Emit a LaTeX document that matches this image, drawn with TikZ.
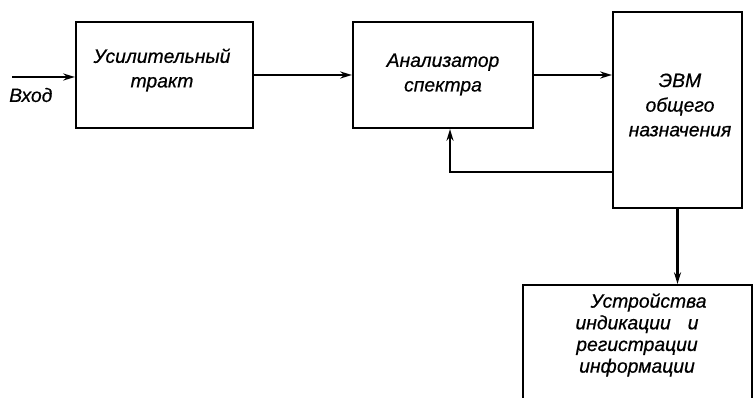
\documentclass[tikz,border=0pt]{standalone}
\usepackage{fontspec}
\newfontfamily\blockfont[FakeBold=0.6]{Liberation Sans}
\usetikzlibrary{arrows.meta}

\tikzset{
  block/.style={draw, line width=1.8pt, inner sep=0pt},
  caption/.style={align=center, inner sep=0pt,
    font=\blockfont\itshape\fontsize{16.5}{21}\selectfont},
  link/.style={line width=1.8pt, -{Stealth[length=10pt,width=6pt]}},
}

\begin{document}
\begin{tikzpicture}[x=0.03cm, y=-0.03cm]
  \clip (0,0) rectangle (753,398);

  % blocks
	\node[block, minimum width=5.31cm, minimum height=3.18cm] (amp) at (164.5,75) {};
	\node[block, minimum width=5.4cm, minimum height=3.18cm] (spec) at (443,75) {};
	\node[block, minimum width=3.87cm, minimum height=5.88cm] (evm) at (677.5,110) {};
	\node[block, minimum width=6.87cm, minimum height=4.2cm, anchor=north] (ind) at (637.5,284) {};

  % texts
	\node[caption] (amptext) at (162,70) {Усилительный\\тракт};
	\node[caption] (spectext) at (443,74.5) {Анализатор\\спектра};
	\node[caption] (evmtext) at (680,105) {ЭВМ\\общего\\назначения};
	\node[caption, font=\blockfont\itshape\fontsize{16.5}{18.5}\selectfont] (indtext) at (637,335) {\hspace{1.2em}Устройства\\индикации\hspace{0.6em} и\\регистрации\\информации};
	\node[caption, anchor=west] (inlbl) at (9,95) {Вход};

	\coordinate (in) at (12,77);
	\coordinate (fb) at (450,172);

	\draw[link] (in) -- (in -| amp.west);
	\draw[link] (amp.east) -- (spec.west);
	\draw[link] (spec.east) -- (spec.east -| evm.west);
	\draw[link] (fb -| evm.west) -- (fb) -- (fb |- spec.south);
	\draw[link] (evm.south) -- (evm.south |- ind.north);
\end{tikzpicture}
\end{document}
